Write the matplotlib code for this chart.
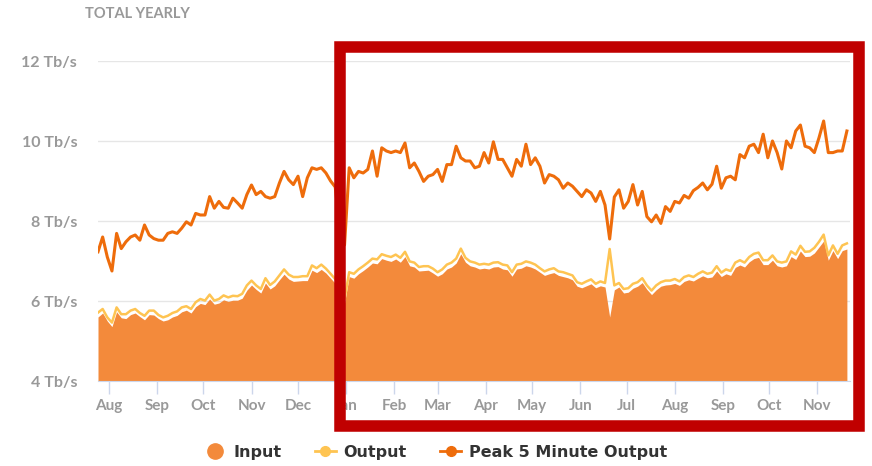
import datetime as dt
import matplotlib
matplotlib.use("Agg")
import matplotlib.pyplot as plt
import matplotlib.dates as mdates
from matplotlib.lines import Line2D
from matplotlib.patches import Rectangle

# one reading every 3 days, starting 25 Jul 2017
start_date = dt.date(2017, 7, 25)
step_days = 3

peak = [7.23, 7.6, 7.1, 6.75, 7.69, 7.31, 7.48, 7.6, 7.65, 7.52,
        7.9, 7.65, 7.56, 7.52, 7.52, 7.69, 7.73, 7.69, 7.82, 7.98,
        7.9, 8.19, 8.15, 8.15, 8.61, 8.32, 8.49, 8.34, 8.32, 8.57,
        8.45, 8.32, 8.66, 8.9, 8.66, 8.74, 8.61, 8.57, 8.61, 8.95,
        9.24, 9.03, 8.91, 9.12, 8.61, 9.08, 9.33, 9.29, 9.33, 9.2,
        9.0, 8.85, 7.8, 7.4, 9.33, 9.08, 9.24, 9.2, 9.29, 9.75,
        9.12, 9.83, 9.75, 9.71, 9.75, 9.71, 9.95, 9.33, 9.45, 9.24,
        8.99, 9.12, 9.16, 9.29, 8.99, 9.41, 9.41, 9.87, 9.58, 9.5,
        9.5, 9.33, 9.37, 9.71, 9.45, 9.98, 9.54, 9.54, 9.33, 9.12,
        9.54, 9.37, 9.92, 9.41, 9.58, 9.37, 8.95, 9.16, 9.12, 9.03,
        8.82, 8.95, 8.87, 8.74, 8.61, 8.78, 8.7, 8.49, 8.74, 8.4,
        7.55, 8.6, 8.78, 8.32, 8.49, 8.91, 8.4, 8.74, 8.11, 7.98,
        8.15, 7.94, 8.36, 8.24, 8.49, 8.45, 8.64, 8.57, 8.76, 8.84,
        8.95, 8.78, 8.92, 9.37, 8.82, 9.08, 9.12, 9.03, 9.66, 9.58,
        9.87, 9.92, 9.71, 10.17, 9.58, 10.0, 9.71, 9.3, 10.0, 9.83,
        10.25, 10.4, 9.87, 9.83, 9.71, 10.08, 10.5, 9.71, 9.71, 9.75,
        9.75, 10.25]

output = [5.71, 5.8, 5.59, 5.46, 5.84, 5.67, 5.67, 5.76, 5.8, 5.7,
          5.63, 5.76, 5.76, 5.65, 5.59, 5.63, 5.7, 5.74, 5.84, 5.87,
          5.8, 5.97, 6.05, 6.01, 6.16, 6.01, 6.05, 6.14, 6.09, 6.13,
          6.12, 6.18, 6.39, 6.51, 6.39, 6.3, 6.57, 6.4, 6.49, 6.64,
          6.79, 6.66, 6.6, 6.6, 6.62, 6.62, 6.89, 6.82, 6.91, 6.81,
          6.68, 6.55, 6.45, 6.05, 6.72, 6.68, 6.79, 6.87, 6.96, 7.06,
          7.04, 7.17, 7.13, 7.1, 7.16, 7.08, 7.23, 6.99, 6.96, 6.85,
          6.87, 6.87, 6.81, 6.72, 6.79, 6.91, 6.96, 7.06, 7.31, 7.08,
          6.99, 6.96, 6.91, 6.93, 6.91, 6.96, 6.97, 6.91, 6.89, 6.72,
          6.91, 6.93, 6.99, 6.96, 6.91, 6.82, 6.74, 6.79, 6.82, 6.74,
          6.72, 6.68, 6.64, 6.47, 6.43, 6.49, 6.54, 6.43, 6.49, 6.45,
          7.3, 6.39, 6.45, 6.3, 6.32, 6.43, 6.47, 6.57, 6.39, 6.26,
          6.39, 6.47, 6.51, 6.51, 6.55, 6.49, 6.6, 6.64, 6.6, 6.68,
          6.74, 6.68, 6.71, 6.87, 6.71, 6.79, 6.75, 6.96, 7.02, 6.96,
          7.1, 7.18, 7.21, 7.02, 7.02, 7.14, 6.99, 6.96, 6.99, 7.24,
          7.16, 7.38, 7.23, 7.24, 7.33, 7.48, 7.66, 7.14, 7.39, 7.18,
          7.39, 7.44]

inp = [5.6, 5.7, 5.5, 5.36, 5.73, 5.58, 5.56, 5.66, 5.7, 5.61,
       5.53, 5.66, 5.65, 5.56, 5.5, 5.53, 5.6, 5.64, 5.73, 5.77,
       5.7, 5.86, 5.94, 5.91, 6.05, 5.92, 5.95, 6.03, 5.99, 6.02,
       6.02, 6.07, 6.27, 6.4, 6.29, 6.2, 6.45, 6.3, 6.38, 6.53,
       6.67, 6.55, 6.49, 6.5, 6.51, 6.51, 6.77, 6.71, 6.79, 6.7,
       6.57, 6.44, 6.35, 5.95, 6.61, 6.57, 6.68, 6.76, 6.85, 6.95,
       6.93, 7.06, 7.02, 6.99, 7.05, 6.97, 7.11, 6.88, 6.85, 6.75,
       6.76, 6.77, 6.7, 6.62, 6.68, 6.8, 6.85, 6.95, 7.18, 6.97,
       6.88, 6.85, 6.8, 6.82, 6.8, 6.85, 6.86, 6.8, 6.78, 6.62,
       6.8, 6.82, 6.88, 6.85, 6.8, 6.72, 6.64, 6.68, 6.71, 6.64,
       6.61, 6.58, 6.53, 6.37, 6.33, 6.38, 6.43, 6.33, 6.38, 6.35,
       5.6, 6.28, 6.35, 6.2, 6.22, 6.32, 6.37, 6.46, 6.29, 6.16,
       6.28, 6.37, 6.4, 6.41, 6.44, 6.39, 6.49, 6.53, 6.5, 6.57,
       6.63, 6.58, 6.6, 6.75, 6.61, 6.68, 6.64, 6.84, 6.9, 6.85,
       6.98, 7.06, 7.09, 6.91, 6.91, 7.02, 6.88, 6.85, 6.88, 7.11,
       7.04, 7.25, 7.11, 7.12, 7.2, 7.35, 7.5, 7.02, 7.26, 7.06,
       7.26, 7.3]

dates = [start_date + dt.timedelta(days=step_days * i) for i in range(len(peak))]

c_input = "#f38a3b"
c_output = "#fec452"
c_peak = "#ee6c0b"
c_text = "#999999"

fig = plt.figure(figsize=(8.72, 4.66), dpi=100)
ax = fig.add_axes([98 / 872, 1 - 381 / 466, 752 / 872, 320 / 466])

ax.fill_between(dates, 4, inp, color=c_input, lw=0, zorder=2)
ax.plot(dates, output, color=c_output, lw=1.8, zorder=3)
ax.plot(dates, peak, color=c_peak, lw=2.2, zorder=4)

ax.set_ylim(4, 12)
ax.set_yticks([4, 6, 8, 10, 12])
ax.set_yticklabels(["4 Tb/s", "6 Tb/s", "8 Tb/s", "10 Tb/s", "12 Tb/s"])
ax.set_xlim(mdates.date2num(start_date), mdates.date2num(start_date + dt.timedelta(days=485)))
ax.xaxis.set_major_locator(mdates.MonthLocator())
ax.xaxis.set_major_formatter(mdates.DateFormatter("%b"))

ax.grid(axis="y", color="#e6e6e6", lw=1, zorder=0)
for s in ["top", "right", "left"]:
    ax.spines[s].set_visible(False)
ax.spines["bottom"].set_color("#ccd6eb")
ax.spines["bottom"].set_zorder(5)
ax.tick_params(axis="y", length=0, pad=15, labelcolor=c_text)
ax.tick_params(axis="x", length=9, width=1, color="#ccd6eb", pad=4, labelcolor=c_text)
for lab in ax.get_yticklabels():
    lab.set_fontfamily("Lato")
    lab.set_fontweight("bold")
    lab.set_fontsize(11.5)
for lab in ax.get_xticklabels():
    lab.set_fontfamily("Lato")
    lab.set_fontweight("bold")
    lab.set_fontsize(11)

fig.text(85 / 872, 1 - 14 / 466, "TOTAL YEARLY", color=c_text, fontsize=10.5,
         fontweight="bold", fontfamily="Lato", va="center")

handles = [
    Line2D([], [], color=c_input, marker="o", ls="none", markersize=11),
    Line2D([], [], color=c_output, marker="o", lw=2, markersize=7),
    Line2D([], [], color=c_peak, marker="o", lw=2, markersize=7),
]
leg = fig.legend(handles, ["Input", "Output", "Peak 5 Minute Output"],
                 loc="center", bbox_to_anchor=(0.5, 1 - 452 / 466), ncol=3,
                 frameon=False, handlelength=1.3, handletextpad=0.5,
                 columnspacing=2.1, prop={"weight": "bold", "size": 11.5})
for t in leg.get_texts():
    t.set_color("#333333")

# red highlight box
fig.patches.append(Rectangle((339.7 / 872, 1 - 426.2 / 466), 519.1 / 872, 379.5 / 466,
                             transform=fig.transFigure, fill=False,
                             edgecolor="#c00000", lw=8.3, zorder=10))

fig.savefig("out.png", dpi=100)
